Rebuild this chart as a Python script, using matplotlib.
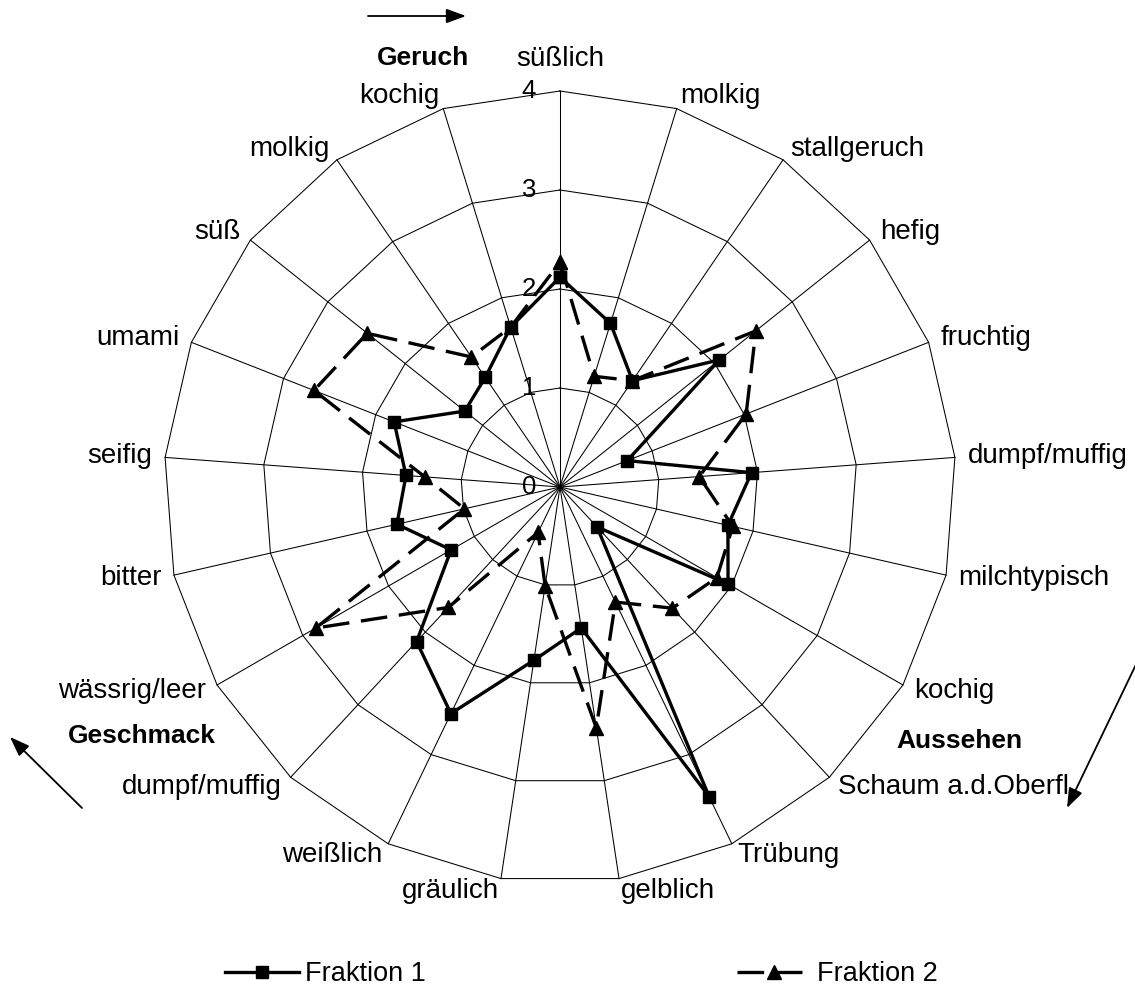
import numpy as np
import matplotlib.pyplot as plt

plt.rcParams['font.family'] = ['Liberation Sans', 'DejaVu Sans']

# Merkmale im Uhrzeigersinn, beginnend oben bei "süßlich"
merkmale = ['süßlich', 'molkig', 'stallgeruch', 'hefig', 'fruchtig', 'dumpf/muffig',
            'milchtypisch', 'kochig', 'Schaum a.d.Oberfl.', 'Trübung', 'gelblich',
            'gräulich', 'weißlich', 'dumpf/muffig', 'wässrig/leer', 'bitter',
            'seifig', 'umami', 'süß', 'molkig', 'kochig']

fraktion_1 = [2.12, 1.73, 1.30, 2.06, 0.73, 1.94, 1.74, 1.96, 0.55, 3.47, 1.44,
              1.77, 2.54, 2.13, 1.27, 1.69, 1.56, 1.80, 1.23, 1.34, 1.69]
fraktion_2 = [2.27, 1.17, 1.30, 2.53, 2.02, 1.41, 1.79, 1.83, 1.67, 1.29, 2.46,
              1.01, 0.51, 1.66, 2.85, 0.99, 1.37, 2.67, 2.49, 1.59, 1.69]

ring_werte = [1, 2, 3, 4]
skala_labels = ['0', '1', '2', '3', '4']
gruppen = ['Geruch', 'Geschmack', 'Aussehen']
r_max = 4

# Pixel pro Skaleneinheit und Lage des Mittelpunkts im Bild
PX = 99.0
W, H = 1135, 991
CX, CY = 560, 487


def pos(px, py):
    # Bildpixel -> Datenkoordinaten
    return (px - CX) / PX, (CY - py) / PX


fig = plt.figure(figsize=(W / 100, H / 100), dpi=100)
ax = fig.add_axes([0, 0, 1, 1])
ax.set_xlim(-CX / PX, (W - CX) / PX)
ax.set_ylim(-(H - CY) / PX, CY / PX)
ax.axis('off')

n = len(merkmale)
theta = 2 * np.pi * np.arange(n) / n
sx, cy = np.sin(theta), np.cos(theta)
sx_c, cy_c = np.append(sx, sx[0]), np.append(cy, cy[0])

# Netz: Ringe als Polygone und Speichen
for rv in ring_werte:
    ax.plot(rv * sx_c, rv * cy_c, color='black', lw=0.75, zorder=1)
for i in range(n):
    ax.plot([0, r_max * sx[i]], [0, r_max * cy[i]], color='black', lw=0.75, zorder=1)

# Skalenbeschriftung an der senkrechten Achse
for v, lab in enumerate(skala_labels):
    ax.text(-0.24, v, lab, ha='right', va='center', fontsize=18.5, zorder=3)

# Merkmalsnamen außen
pad = 0.13
for i, name in enumerate(merkmale):
    s, c = sx[i], cy[i]
    if abs(s) < 0.05:
        ax.text(0, r_max + 0.25, name, ha='center', va='baseline', fontsize=20)
    else:
        ha = 'left' if s > 0 else 'right'
        ax.text((r_max + pad) * s, (r_max + pad) * c, name, ha=ha, va='center', fontsize=20)

# Datenreihen
f1 = np.array(fraktion_1 + fraktion_1[:1])
f2 = np.array(fraktion_2 + fraktion_2[:1])
ax.plot(f1 * sx_c, f1 * cy_c, color='black', lw=2.4, marker='s', ms=9,
        zorder=4, label='Fraktion 1')
ax.plot(f2 * sx_c, f2 * cy_c, color='black', lw=2.4, ls=(0, (8, 3.5)), marker='^', ms=10,
        zorder=5, label='Fraktion 2')

# Gruppenbezeichnungen
ax.text(*pos(423, 58), gruppen[0], fontsize=19, fontweight='bold', ha='center', va='center')
ax.text(*pos(142, 736), gruppen[1], fontsize=19, fontweight='bold', ha='center', va='center')
ax.text(*pos(959, 741), gruppen[2], fontsize=19, fontweight='bold', ha='center', va='center')

# Pfeile für die Leserichtung
pfeil = dict(arrowstyle='-|>,head_length=0.6,head_width=0.22', color='black',
             lw=1.3, mutation_scale=20, shrinkA=0, shrinkB=0)
ax.annotate('', xy=pos(466, 16), xytext=pos(368, 16), arrowprops=pfeil)
ax.annotate('', xy=pos(10, 737), xytext=pos(82, 808), arrowprops=pfeil)
ax.annotate('', xy=pos(1067, 808), xytext=pos(1142, 652), arrowprops=pfeil)

ax.legend(loc='center left', bbox_to_anchor=pos(225, 974), bbox_transform=ax.transData,
          ncol=2, frameon=False, fontsize=19.5, handlelength=2.75, handletextpad=0.2,
          columnspacing=11.5, borderpad=0, borderaxespad=0)

fig.savefig('out.png', dpi=100)
